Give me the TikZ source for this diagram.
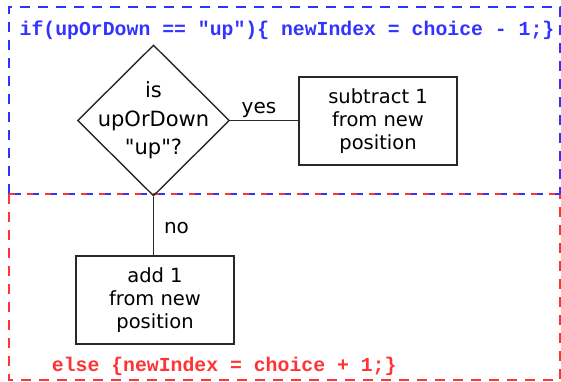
\documentclass[tikz,border=0pt]{standalone}
\usepackage{fontspec}
\setmainfont{DejaVu Sans}
\newfontfamily\plainsans{DejaVu Sans}
\newfontfamily\codefont{Liberation Mono}
\usetikzlibrary{shapes.geometric}
\definecolor{codeblue}{RGB}{51,51,255}
\definecolor{codered}{RGB}{255,51,51}
\definecolor{edgegray}{RGB}{40,40,40}
\begin{document}
\begin{tikzpicture}[x=1pt,y=-1pt,
  stepbox/.style={draw=edgegray, line width=1.4pt, minimum width=158pt, minimum height=88pt, inner sep=0pt, align=center, font=\plainsans\fontsize{19.5}{23}\selectfont},
  decision/.style={draw=edgegray, line width=1.4pt, diamond, aspect=1, minimum width=152pt, minimum height=151pt, inner sep=0pt},
  dectext/.style={align=center, inner sep=0pt, font=\plainsans\fontsize{21}{28.5}\selectfont},
  lbl/.style={font=\plainsans\fontsize{20}{24}\selectfont, anchor=base, inner sep=0pt},
  conn/.style={draw=edgegray, line width=1.4pt},
  code/.style={font=\codefont\bfseries\fontsize{19.8}{24}\selectfont, anchor=base west, inner sep=0pt},
  bluedash/.style={draw=codeblue, line width=2pt, dash pattern=on 10pt off 8pt},
  reddash/.style={draw=codered, line width=2pt, dash pattern=on 10pt off 8pt}]
\useasboundingbox (0,0) rectangle (561,381);

% dashed regions
\draw[bluedash] (9,194) -- (9,7) -- (560,7) -- (560,194);
\draw[reddash] (9,194) -- (9,380) -- (560,380) -- (560,194);
\draw[draw=codered, line width=2pt, dash pattern=on 6pt off 12pt] (9,194) -- (560,194);
\draw[draw=codeblue, line width=2pt, dash pattern=on 6pt off 12pt, dash phase=12pt] (9,194) -- (560,194);

% code texts
\node[code, text=codeblue] (ifcode) at (19.5,35) {if(upOrDown == "up")\{ newIndex = choice - 1;\}};
\node[code, text=codered] (elsecode) at (51.7,371.5) {else \{newIndex = choice + 1;\}};

% flowchart
\node[decision] (dec) at (153.5,120.5) {};
\node[dectext] (dectxt) at (dec.center) {is\\upOrDown\\"up"?};
\node[stepbox] (sub) at (378,121) {subtract 1\\from new\\position};
\node[stepbox] (add) at (155,300) {add 1\\from new\\position};

\draw[conn] (dec.east) -- (dec.east -| sub.west);
\draw[conn] (dec.south) -- (dec.south |- add.north);

\node[lbl] (yes) at (259,113) {yes};
\node[lbl] (no) at (176.5,233) {no};
\end{tikzpicture}
\end{document}
